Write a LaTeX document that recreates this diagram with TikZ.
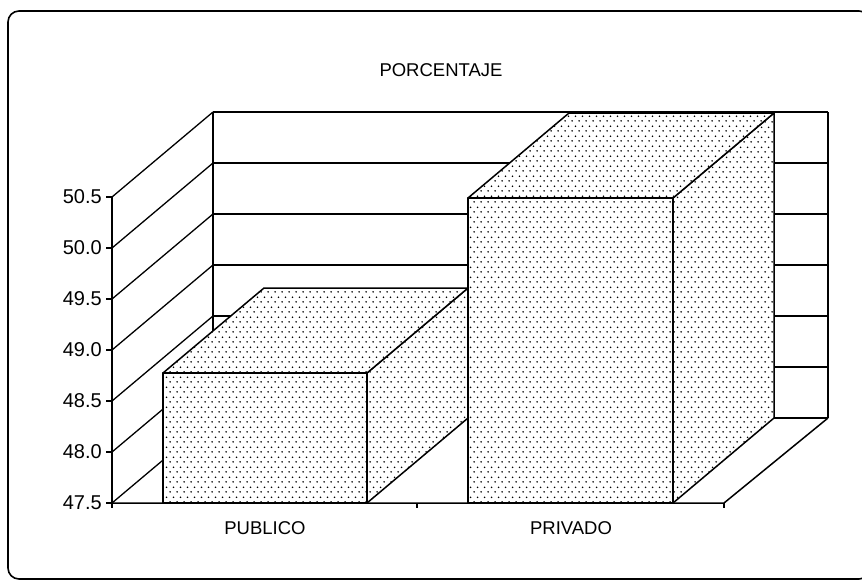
\documentclass[tikz,border=0pt]{standalone}
\usepackage{fontspec}
\setmainfont{Liberation Sans}
\usetikzlibrary{patterns}
\pgfdeclarepatternformonly{stipple}{\pgfpointorigin}{\pgfqpoint{7.4pt}{10pt}}{\pgfqpoint{7.4pt}{10pt}}{%
  \pgfpathcircle{\pgfqpoint{1.2pt}{1.2pt}}{0.95pt}%
  \pgfpathcircle{\pgfqpoint{4.9pt}{6.2pt}}{0.95pt}%
  \pgfusepath{fill}}
\tikzset{
  ln/.style={line width=1.5pt, line join=round},
  thin ln/.style={line width=1.3pt},
  frame/.style={line width=1.6pt, rounded corners=11pt},
  barface/.style={ln, preaction={fill=white}, pattern=stipple},
  lbl/.style={inner sep=0pt, font=\fontsize{18.5}{20}\selectfont},
  numlbl/.style={inner sep=0pt, font=\fontsize{20}{21}\selectfont}
}
\begin{document}
\begin{tikzpicture}[x=1pt,y=-1pt]
\useasboundingbox (0,0) rectangle (862,582);
\draw[frame] (8,11) rectangle (870,579);

\node[lbl] (title) at (441,70) {PORCENTAJE};

% back wall and left wall grid
\foreach \i/\v in {0/47.5,1/48.0,2/48.5,3/49.0,4/49.5,5/50.0,6/50.5}{
  \pgfmathsetmacro\yy{503-51*\i}
  \coordinate (f\i) at (112,\yy);
  \coordinate (b\i) at (213,\yy-85);
  \coordinate (r\i) at (828,\yy-85);
  \draw[ln] (b\i) -- (r\i);
  \draw[thin ln] (f\i) -- (b\i);
  \draw[ln] (106,\yy) -- (f\i);
  \node[numlbl, anchor=east] (t\i) at (102,\yy) {\v};
}
\draw[ln] (b0) -- (b6);
\draw[ln] (r0) -- (r6);
\draw[ln] (f0) -- (f6);

% floor
\coordinate (fl1) at (724,503);
\draw[ln] (f0) -- (fl1) -- (r0);
\foreach \x in {112,417,724}{ \draw[ln] (\x,503) -- (\x,508); }

% bars
\foreach \nm/\xa/\xb/\yt in {pub/163/367/373, priv/468/673/198}{
  \coordinate (\nm fl) at (\xa,503);
  \coordinate (\nm fr) at (\xb,503);
  \coordinate (\nm tl) at (\xa,\yt);
  \coordinate (\nm tr) at (\xb,\yt);
  \coordinate (\nm bl) at (\xa+101,\yt-85);
  \coordinate (\nm br) at (\xb+101,\yt-85);
  \coordinate (\nm bb) at (\xb+101,418);
  \draw[barface] (\nm tr) -- (\nm br) -- (\nm bb) -- (\nm fr) -- cycle;
  \draw[barface] (\nm tl) -- (\nm tr) -- (\nm br) -- (\nm bl) -- cycle;
  \draw[barface] (\nm fl) rectangle (\nm tr);
}

\node[lbl] (pub) at (265,528) {PUBLICO};
\node[lbl] (priv) at (571,528) {PRIVADO};
\end{tikzpicture}
\end{document}
